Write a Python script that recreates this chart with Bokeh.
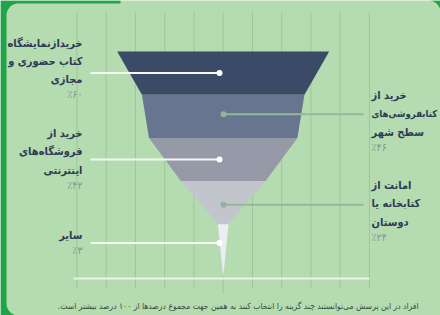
import math
from bokeh.plotting import figure
from bokeh.models import Range1d
from bokeh.core.properties import value
from bokeh.embed import file_html
from bokeh.resources import INLINE

# ---------------- data ----------------
categories = [
    "خرید از نمایشگاه کتاب حضوری و مجازی",
    "خرید از کتابفروشی‌های سطح شهر",
    "خرید از فروشگاه‌های اینترنتی",
    "امانت از کتابخانه یا دوستان",
    "سایر",
]
label_lines = [
    ["خریدازنمایشگاه", "کتاب حضوری و", "مجازی"],
    ["خرید از", "کتابفروشی‌های", "سطح شهر"],
    ["خرید از", "فروشگاه‌های", "اینترنتی"],
    ["امانت از", "کتابخانه یا", "دوستان"],
    ["سایر"],
]
values = [60, 46, 42, 24, 3]
pct_labels = ["٪۶۰", "٪۴۶", "٪۴۲", "٪۲۴", "٪۳"]
footnote = "افراد در این پرسش می‌توانستند چند گزینه را انتخاب کنند به همین جهت مجموع درصدها از ۱۰۰ درصد بیشتر است.\u200f"

# ---------------- layout / style ----------------
colors = ["#3B4A67", "#687590", "#9599A8", "#C3C5CD", "#EDEBF3"]
sides = ["left", "right", "left", "right", "left"]
heights = [1, 1, 1, 1, 1.23]
leader_frac = [0.5, 0.45, 0.5, 0.55, 0.35]
text_top = [42.7, 95, 133, 185, 235]
BG = "#B4DCB0"
FRAME = "#1FA547"
TXT = "#2F3B55"
PCT = "#84948E"
FONT = value("DejaVu Sans Condensed")

W, H = 440, 315
CX, SX, TOP, SY = 222.7, 3.533, 51.0, 43.2
def X(px):
    return (px - CX) / SX
def Y(py):
    return (py - TOP) / SY

p = figure(width=W, height=H, output_backend="svg", toolbar_location=None,
           x_range=Range1d(X(0), X(W)), y_range=Range1d(Y(H), Y(0)),
           min_border=0, background_fill_color=BG, border_fill_color=BG)
p.outline_line_color = None
p.axis.visible = False
p.grid.visible = False

# frame (dark green rim on the left with rounded inner corners)
fx, fy = [0, 120, 120, 18], [0, 0, 3, 3]
for k in range(1, 16):
    a = math.radians(-90 - 90 * k / 15)
    fx.append(18 + 12 * math.cos(a)); fy.append(15 + 12 * math.sin(a))
fx.append(6); fy.append(H - 12)
for k in range(1, 16):
    a = math.radians(180 - 90 * k / 15)
    fx.append(18 + 12 * math.cos(a)); fy.append(H - 12 + 12 * math.sin(a))
fx += [0]; fy += [H]
tx_, ty_ = [428, W, W], [0, 0, 12]
for k in range(1, 15):
    a = math.radians(0 - 90 * k / 15)
    tx_.append(428 + 12 * math.cos(a)); ty_.append(12 + 12 * math.sin(a))
p.patches(xs=[[X(v) for v in fx], [X(v) for v in tx_]],
          ys=[[Y(v) for v in fy], [Y(v) for v in ty_]],
          fill_color=FRAME, line_color=None)

# vertical grid lines
gx = [X(CX + k * 29.25) for k in range(-5, 6)]
gy1 = [Y(12)] * len(gx)
gy2 = [Y(293) if k == 0 else Y(288) for k in range(-5, 6)]
p.segment(x0=gx, y0=gy1, x1=gx, y1=gy2, line_color="#9CC898", line_width=1)

# baseline
p.segment(x0=[X(73)], y0=[Y(278)], x1=[X(369)], y1=[Y(278)], line_color="#EAF4E8", line_width=2)

# funnel
xs, ys, tops = [], [], []
t = 0.0
for i, v in enumerate(values):
    nxt = values[i + 1] if i + 1 < len(values) else 0
    h = heights[i]
    xs.append([-v / 2, v / 2, nxt / 2, -nxt / 2])
    ys.append([t, t, t + h, t + h])
    tops.append(t)
    t += h
p.patches(xs=xs, ys=ys, fill_color=colors, line_color=None)

# leaders and labels
for i, v in enumerate(values):
    ly = tops[i] + leader_frac[i] * heights[i]
    lines = label_lines[i]
    if sides[i] == "left":
        dx = X(219)
        p.line([X(90), dx], [ly, ly], line_color="#F4F9F2", line_width=2)
        p.scatter([dx], [ly], size=6, fill_color="#FFFFFF", line_color=None)
        tx, align = X(82), "right"
    else:
        dx = X(223)
        p.line([dx, X(363)], [ly, ly], line_color="#92B99A", line_width=2)
        p.scatter([dx], [ly], size=6, fill_color="#92B49C", line_color=None)
        tx, align = X(371), "left"
    y0 = text_top[i]
    ty = [Y(y0 + k * 18.3) for k in range(len(lines))]
    sizes = ["9.5px" if len(s) > 12 and sides[i] == "right" else "11px" for s in lines]
    p.text(x=[tx] * len(lines), y=ty, text=lines, text_font=FONT, text_font_style="bold",
           text_font_size=sizes, text_color=TXT, text_align=align, text_baseline="middle")
    py_ = y0 + (len(lines) - 1) * 18.3 + 14.5
    p.text(x=[tx], y=[Y(py_)], text=[pct_labels[i]], text_font=FONT,
           text_font_size="10.5px", text_color=PCT, text_align=align, text_baseline="middle")

# footnote
p.text(x=[X(418)], y=[Y(305)], text=[footnote], text_font=FONT, text_font_size="8.5px",
       text_color="#3C4A46", text_align="right", text_baseline="middle")

open("out.html", "w").write(file_html(p, INLINE))
